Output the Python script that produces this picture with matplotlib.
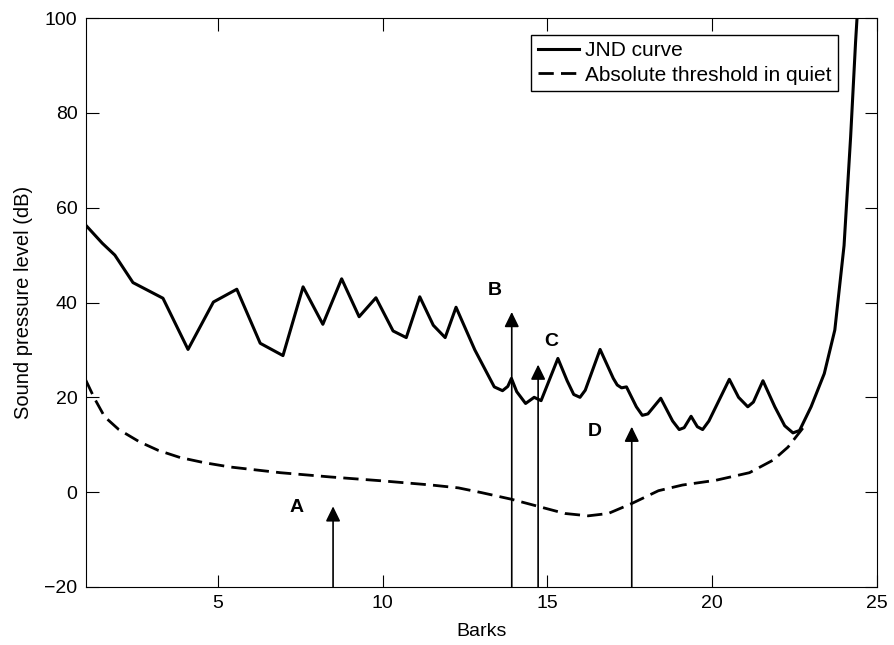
import matplotlib
matplotlib.use("Agg")
import matplotlib.pyplot as plt

plt.rcParams['font.family'] = ['Liberation Sans', 'DejaVu Sans']
plt.rcParams['font.size'] = 14

# JND curve (Barks, dB)
jnd_x = [1.0, 1.5, 1.88, 2.43, 3.34, 4.1, 4.87, 5.58, 6.29, 6.98, 7.59, 8.19,
         8.76, 9.29, 9.8, 10.32, 10.72, 11.13, 11.54, 11.9, 12.23, 12.8, 13.39,
         13.64, 13.8, 13.91, 14.07, 14.34, 14.6, 14.81, 15.32, 15.6, 15.8, 15.99,
         16.15, 16.6, 17.0, 17.12, 17.25, 17.4, 17.7, 17.88, 18.05, 18.44, 18.8,
         19.0, 19.15, 19.36, 19.55, 19.71, 19.9, 20.52, 20.8, 21.08, 21.25, 21.54,
         21.9, 22.2, 22.45, 22.65, 23.0, 23.4, 23.72, 24.0, 24.2, 24.35, 24.42]
jnd_y = [56.3, 52.5, 50.0, 44.2, 40.9, 30.1, 40.1, 42.8, 31.4, 28.8, 43.3, 35.4,
         45.0, 37.0, 41.0, 34.0, 32.6, 41.2, 35.2, 32.6, 39.0, 30.0, 22.2,
         21.4, 22.3, 24.0, 21.2, 18.7, 20.0, 19.3, 28.2, 23.5, 20.6, 20.0,
         21.5, 30.1, 24.0, 22.6, 22.0, 22.2, 18.0, 16.2, 16.5, 19.8, 15.0,
         13.2, 13.6, 16.0, 13.8, 13.2, 15.0, 23.8, 20.0, 18.0, 19.0, 23.5,
         18.0, 14.0, 12.5, 13.0, 18.0, 25.0, 34.2, 52.0, 75.0, 95.0, 103.0]

# absolute threshold in quiet
ath_x = [1.0, 1.26, 1.57, 2.0, 2.63, 3.2, 3.86, 4.6, 5.38, 6.9, 8.42, 9.95,
         11.48, 12.3, 13.0, 13.91, 14.72, 15.53, 16.24, 16.85, 17.56, 18.37,
         19.1, 20.11, 21.13, 21.86, 22.3, 22.75]
ath_y = [23.6, 19.8, 15.9, 13.2, 10.6, 8.8, 7.3, 6.2, 5.3, 4.1, 3.2, 2.4,
         1.5, 0.9, -0.1, -1.5, -3.0, -4.5, -5.0, -4.5, -2.4, 0.3,
         1.5, 2.5, 4.1, 6.8, 9.5, 13.5]

# marker arrows
arrow_names = ['A', 'B', 'C', 'D']
arrow_x = [8.5, 13.92, 14.72, 17.56]
arrow_top = [-3.0, 38.0, 26.9, 13.8]
label_x = [7.4, 13.4, 15.13, 16.44]
label_y = [-3.3, 42.6, 31.7, 12.7]

fig = plt.figure(figsize=(8.94, 6.45), dpi=100)
ax = fig.add_axes([0.096, 0.09, 0.885, 0.882])

ax.plot(jnd_x, jnd_y, color='black', lw=2.2, label='JND curve')
ax.plot(ath_x, ath_y, color='black', lw=2.0, linestyle=(0, (5.5, 2.6)),
        label='Absolute threshold in quiet')

for name, x, top, lx, ly in zip(arrow_names, arrow_x, arrow_top, label_x, label_y):
    ax.annotate('', xy=(x, top), xytext=(x, -20),
                arrowprops=dict(arrowstyle='-|>,head_length=0.45,head_width=0.22',
                                mutation_scale=20, lw=1.2, color='black',
                                shrinkA=0, shrinkB=0))
    ax.text(lx, ly, name, fontsize=14, fontweight='bold', ha='center', va='center')

ax.set_xlim(1, 25)
ax.set_ylim(-20, 100)
ax.set_xticks([5, 10, 15, 20, 25])
ax.set_yticks([-20, 0, 20, 40, 60, 80, 100])
ax.tick_params(direction='in', length=9, top=True, right=True, labelsize=14, pad=6)
ax.set_xlabel('Barks', fontsize=14, labelpad=8)
ax.set_ylabel('Sound pressure level (dB)', fontsize=14.5, labelpad=8)

leg = ax.legend(loc='upper right', bbox_to_anchor=(0.951, 0.970), borderaxespad=0,
                fontsize=15, fancybox=False, framealpha=1, edgecolor='black',
                handlelength=2.0, handletextpad=0.3, labelspacing=0.25,
                borderpad=0.3)
leg.get_frame().set_linewidth(1.0)

fig.savefig('out.png', dpi=100)
